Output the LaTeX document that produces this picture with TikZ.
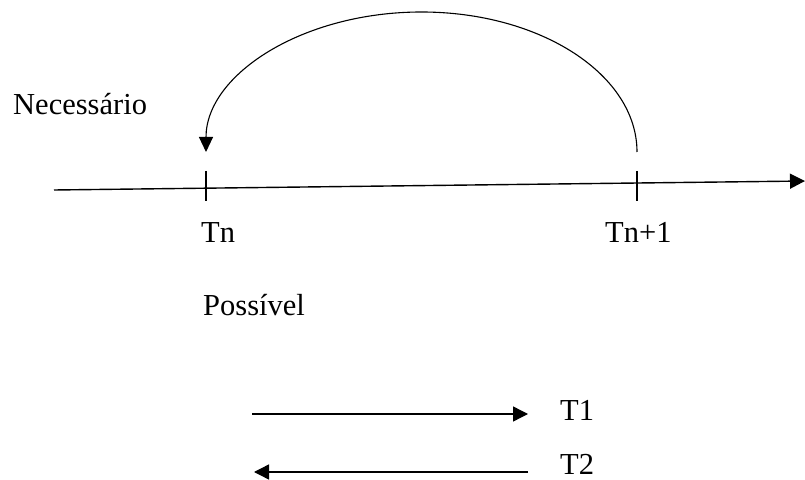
\documentclass[tikz,border=0pt]{standalone}
\usepackage{fontspec}
\setmainfont{Liberation Serif}
\usetikzlibrary{arrows.meta}
\tikzset{
  lbl/.style={anchor=base west, inner sep=0pt, font=\fontsize{30.5}{34}\selectfont},
  ln/.style={line width=1.4pt},
  tick/.style={line width=1.1pt},
  tip/.style={-{Triangle[length=15pt,width=15pt]}}
}
\begin{document}
\begin{tikzpicture}[x=1pt,y=1pt]
\useasboundingbox (0,0) rectangle (805,479);
% axis
\coordinate (axL) at (54,289);
\coordinate (axR) at (805,298);
\draw[ln,tip] (axL) -- (axR);
% ticks
\coordinate (tnA) at (206,308);
\coordinate (tnB) at (206,278);
\coordinate (tmA) at (637,308);
\coordinate (tmB) at (637,278);
\draw[tick] (tnA) -- (tnB);
\draw[tick] (tmA) -- (tmB);
% arc
\coordinate (arcS) at (637,327);
\draw[line width=1.1pt,-{Triangle[length=15pt,width=14pt]}] (arcS) arc[start angle=0,end angle=180,x radius=215.5,y radius=140];
% labels
\node[lbl] (nec) at (13,364) {Necessário};
\node[lbl] (tn) at (201,236) {Tn};
\node[lbl] (tn1) at (605,236) {Tn+1};
\node[lbl] (pos) at (203,163) {Possível};
\node[lbl] (t1) at (560,59) {T1};
\node[lbl] (t2) at (560,5) {T2};
% small arrows
\coordinate (aS) at (252,65);
\coordinate (aE) at (528,65);
\coordinate (bS) at (528,7);
\coordinate (bE) at (254,7);
\draw[ln,tip] (aS) -- (aE);
\draw[ln,tip] (bS) -- (bE);
\end{tikzpicture}
\end{document}
